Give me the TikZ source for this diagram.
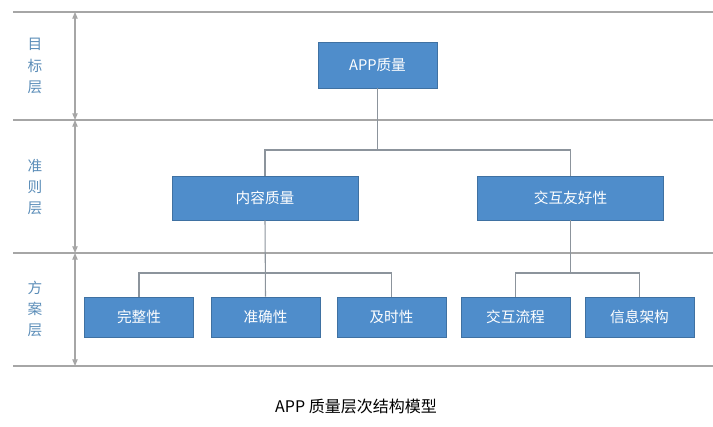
\documentclass[tikz,border=0pt]{standalone}
\usepackage{fontspec}
\newfontfamily\cjk{Noto Sans CJK SC}
\usetikzlibrary{arrows.meta}
\definecolor{boxblue}{HTML}{4F8DCB}
\definecolor{lbl}{HTML}{5B8DB8}
\definecolor{cng}{HTML}{8C949C}
\begin{document}
\begin{tikzpicture}[x=0.75pt,y=-0.75pt,
  bx/.style={draw=boxblue!80!black,line width=0.4pt,fill=boxblue,text=white,font=\cjk\fontsize{11}{13}\selectfont,inner sep=0pt},
  ln/.style={draw=gray!70,line width=1.2pt},
  cn/.style={draw=cng,line width=0.8pt},
  ar/.style={draw=gray!70,line width=0.8pt,{Triangle[length=5pt,width=4pt]}-{Triangle[length=5pt,width=4pt]}},
  lb/.style={text=lbl,font=\cjk\fontsize{11}{16}\selectfont,align=center}]
\useasboundingbox (0,0) rectangle (713,427);
\foreach \y/\n in {12/l1,120/l2,253/l3,366/l4}{\coordinate (\n a) at (13,\y);\coordinate (\n b) at (713,\y);\draw[ln] (\n a)--(\n b);}
\coordinate (a1) at (75,12);\coordinate (a2) at (75,120);\coordinate (a3) at (75,253);\coordinate (a4) at (75,366);
\draw[ar] (a1)--(a2);\draw[ar] (a2)--(a3);\draw[ar] (a3)--(a4);
\node[lb] (t1) at (35,66) {目\\标\\层};
\node[lb] (t2) at (35,187) {准\\则\\层};
\node[lb] (t3) at (35,309) {方\\案\\层};
\node[bx,minimum width=89.25pt,minimum height=34.5pt] (app) at (377.5,65) {APP质量};
\node[bx,minimum width=139.5pt,minimum height=33pt] (nr) at (265,198) {内容质量};
\node[bx,minimum width=139.5pt,minimum height=33pt] (jh) at (570.5,198) {交互友好性};
\foreach \x/\n/\t in {139/b1/完整性,265.5/b2/准确性,391.5/b3/及时性,515.5/b4/交互流程,639.5/b5/信息架构}
  \node[bx,minimum width=82pt,minimum height=30pt] (\n) at (\x,317) {\t};
\draw[cn] (app.south)--++(0,62);
\draw[cn] (nr.north)|-(jh.north |- 0,150)--(jh.north);
\draw[cn] (nr.south)--(b2.north);
\draw[cn] (b1.north)|-(b3.north |- 0,273)--(b3.north);
\draw[cn] (jh.south)--++(0,53);
\draw[cn] (b4.north)|-(b5.north |- 0,273)--(b5.north);
\node[font=\cjk\fontsize{12}{14}\selectfont] (cap) at (356,406) {APP 质量层次结构模型};
\end{tikzpicture}
\end{document}
